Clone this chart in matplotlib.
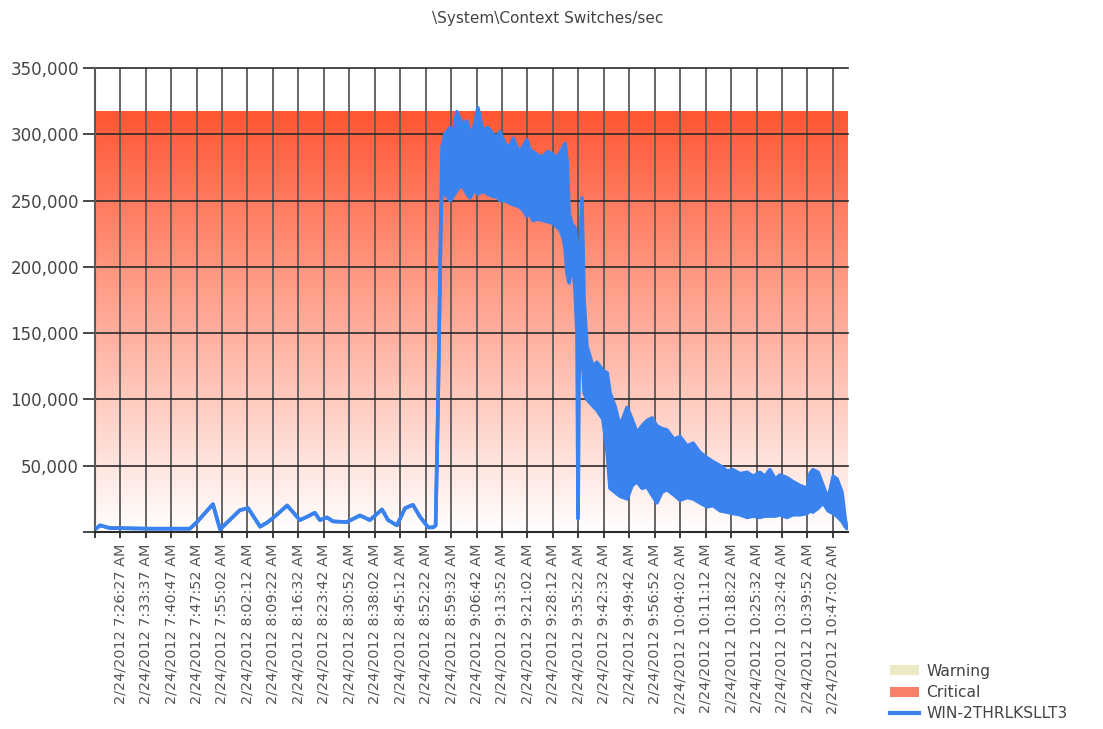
import matplotlib
matplotlib.use("Agg")
import matplotlib.pyplot as plt
import numpy as np
from matplotlib.colors import LinearSegmentedColormap
from matplotlib.patches import Patch
from matplotlib.lines import Line2D
from matplotlib.ticker import FuncFormatter

# ---------------- data ----------------
title = "\\System\\Context Switches/sec"
series_name = "WIN-2THRLKSLLT3"
legend_names = ["Warning", "Critical", series_name]

tick_labels = [
    "2/24/2012 7:26:27 AM", "2/24/2012 7:33:37 AM", "2/24/2012 7:40:47 AM",
    "2/24/2012 7:47:52 AM", "2/24/2012 7:55:02 AM", "2/24/2012 8:02:12 AM",
    "2/24/2012 8:09:22 AM", "2/24/2012 8:16:32 AM", "2/24/2012 8:23:42 AM",
    "2/24/2012 8:30:52 AM", "2/24/2012 8:38:02 AM", "2/24/2012 8:45:12 AM",
    "2/24/2012 8:52:22 AM", "2/24/2012 8:59:32 AM", "2/24/2012 9:06:42 AM",
    "2/24/2012 9:13:52 AM", "2/24/2012 9:21:02 AM", "2/24/2012 9:28:12 AM",
    "2/24/2012 9:35:22 AM", "2/24/2012 9:42:32 AM", "2/24/2012 9:49:42 AM",
    "2/24/2012 9:56:52 AM", "2/24/2012 10:04:02 AM", "2/24/2012 10:11:12 AM",
    "2/24/2012 10:18:22 AM", "2/24/2012 10:25:32 AM", "2/24/2012 10:32:42 AM",
    "2/24/2012 10:39:52 AM", "2/24/2012 10:47:02 AM",
]
axis_start_clock = "7:19:17"      # left edge of the category axis
axis_span_min = 212.0             # minutes shown on the axis

y_ticks = [0, 50000, 100000, 150000, 200000, 250000, 300000, 350000]
critical_top = 317000

# elapsed minutes from axis start; values in thousands of switches/sec
pre_ramp_min = [0.5, 1.4, 4.2, 15.5, 26.7, 28.7, 33.2, 35.2, 40.8, 43.1,
                46.5, 48.4, 50.1, 54.1, 57.7, 59.7, 61.9, 63.3, 65.3, 67.0,
                70.9, 74.6, 77.4, 80.8, 82.5, 85.0, 87.3, 89.5, 91.5, 93.8,
                95.2, 95.9, 96.6, 97.4]
pre_ramp_k = [3, 5, 3, 2.5, 2.5, 7.5, 21, 2, 16.5, 18,
              4, 7, 10.5, 20, 9, 11.5, 14.5, 9, 11, 8,
              7.5, 12.5, 9, 17, 9, 5, 18, 20.5, 11.5, 3.5,
              3.5, 5, 100, 240]

band_min = [97.7, 98.5, 100.0, 100.8, 101.9, 103.3, 104.7, 105.6, 106.7, 107.8,
            109.2, 110.6, 112.1, 113.2, 114.0, 115.4, 116.8, 117.7, 118.8, 119.7,
            120.8, 121.6, 122.5, 123.3, 124.7, 126.1, 127.5, 128.9, 130.1, 130.9,
            131.8, 132.3, 132.9, 133.5, 134.3, 135.1, 135.7, 136.0, 136.3, 137.1,
            137.7, 138.5, 140.2, 141.3, 143.0, 144.2, 145.0, 146.4, 147.8, 149.8,
            151.2, 152.6, 154.0, 155.4, 156.8, 158.2, 159.6, 161.0, 163.0, 164.7,
            166.7, 168.4, 170.3, 172.3, 174.0, 176.0, 177.9, 179.6, 181.6, 183.6,
            185.3, 187.2, 188.6, 190.0, 191.5, 192.9, 194.8, 196.5, 198.5, 200.5,
            201.3, 202.1, 203.6, 205.0, 206.4, 207.8, 208.9, 210.3, 211.2, 211.7]
band_high_k = [290, 300, 305, 300, 317, 308, 310, 300, 305, 320,
               303, 305, 300, 298, 302, 293, 290, 297, 290, 287,
               292, 296, 288, 287, 284, 283, 287, 285, 282, 286,
               290, 293, 280, 240, 232, 230, 215, 180, 190, 252,
               175, 140, 125, 128, 122, 120, 105, 95, 80, 94,
               85, 75, 80, 84, 86, 80, 78, 77, 70, 72,
               65, 67, 60, 56, 53, 50, 46, 47, 44, 45,
               42, 45, 42, 47, 40, 43, 41, 38, 35, 33,
               44, 47, 45, 35, 25, 42, 40, 30, 10, 3]
band_low_k = [255, 255, 250, 253, 258, 262, 255, 252, 258, 255,
              257, 255, 253, 253, 250, 250, 248, 247, 246, 245,
              242, 238, 240, 235, 236, 235, 234, 233, 230, 228,
              222, 215, 195, 188, 205, 185, 150, 10, 120, 140,
              105, 100, 95, 92, 85, 60, 33, 30, 27, 25,
              35, 38, 33, 34, 28, 22, 30, 32, 28, 24,
              26, 25, 22, 19, 20, 16, 15, 14, 13, 11,
              12, 11, 12, 12, 12, 13, 11, 13, 13, 14,
              16, 15, 18, 22, 16, 14, 12, 8, 4, 3]

# ---------------- styling ----------------
BLUE = "#3A82EE"
CRIT_TOP = (1.0, 0.34, 0.20)
GRID_V = "#5a5a5a"
GRID_H = "#2a2a2a"

def clock_to_min(s):
    h, m, sec = [int(v) for v in s.split(":")]
    return h * 60 + m + sec / 60.0

start = clock_to_min(axis_start_clock)
tick_pos = [clock_to_min(l.split(" ")[1]) - start for l in tick_labels]

t = np.array(pre_ramp_min + band_min)
hi = np.array(pre_ramp_k + band_high_k) * 1000
lo = np.array(pre_ramp_k + band_low_k) * 1000

fig = plt.figure(figsize=(11.03, 7.29), dpi=100)
fig.patch.set_facecolor("white")
ax = fig.add_axes([95 / 1103, 1 - 532 / 729, (848 - 95) / 1103, (532 - 68) / 729])

# Critical band gradient (white at bottom -> orange-red at top)
cmap = LinearSegmentedColormap.from_list("crit", [(1, 1, 1), CRIT_TOP])
grad = np.linspace(0, 1, 256).reshape(-1, 1)
ax.imshow(grad, extent=[0, axis_span_min, 0, critical_top], origin="lower",
          aspect="auto", cmap=cmap, zorder=0, interpolation="bilinear")

# grid
for xp in tick_pos:
    ax.axvline(xp, color=GRID_V, lw=1.3, zorder=1)
for yv in y_ticks[1:]:
    ax.axhline(yv, color=GRID_H, lw=1.2, zorder=1, clip_on=False)

# series
ax.fill_between(t, lo, hi, color=BLUE, lw=0, zorder=3)
ax.plot(t, hi, color=BLUE, lw=2.6, zorder=3, solid_joinstyle="round")
ax.plot(t, lo, color=BLUE, lw=2.6, zorder=3, solid_joinstyle="round")

ax.set_xlim(0, axis_span_min)
ax.set_ylim(0, 350000)

ax.set_yticks(y_ticks)
ax.yaxis.set_major_formatter(FuncFormatter(lambda v, p: "" if v == 0 else f"{int(v):,}"))
ax.tick_params(axis="y", direction="out", length=8.6, width=1.2, color=GRID_H,
               labelsize=12, labelcolor="#444444", pad=3)
for lab in ax.get_yticklabels():
    lab.set_family("DejaVu Sans")

ax.set_xticks(tick_pos)
ax.set_xticklabels(tick_labels, rotation=90, fontsize=10.4, color="#555555",
                   family="DejaVu Sans", va="top", ha="center")
ax.set_xticks([0], minor=True)
ax.tick_params(axis="x", which="both", direction="out", length=4.5, width=1.3,
               color=GRID_H, pad=4)

for side in ["top", "right"]:
    ax.spines[side].set_visible(False)
ax.spines["left"].set_color(GRID_V)
ax.spines["left"].set_linewidth(1.5)
ax.spines["bottom"].set_color(GRID_H)
ax.spines["bottom"].set_linewidth(1.5)

fig.text(548 / 1103, 1 - 19 / 729, title, ha="center", va="center",
         fontsize=11, color="#444444", family="DejaVu Sans")

handles = [Patch(facecolor="#ECEAC4", edgecolor="none"),
           Patch(facecolor="#F7806A", edgecolor="none"),
           Line2D([0], [0], color=BLUE, lw=3)]
leg = fig.legend(handles, legend_names, loc="upper left",
                 bbox_to_anchor=(879 / 1103, 1 - 653 / 729), frameon=False,
                 handlelength=1.9, handleheight=0.6,
                 handletextpad=0.45, labelspacing=0.4, borderpad=0.2,
                 prop={"family": "DejaVu Sans", "size": 11.2})
for txt in leg.get_texts():
    txt.set_color("#444444")

fig.savefig("out.png", dpi=100)
